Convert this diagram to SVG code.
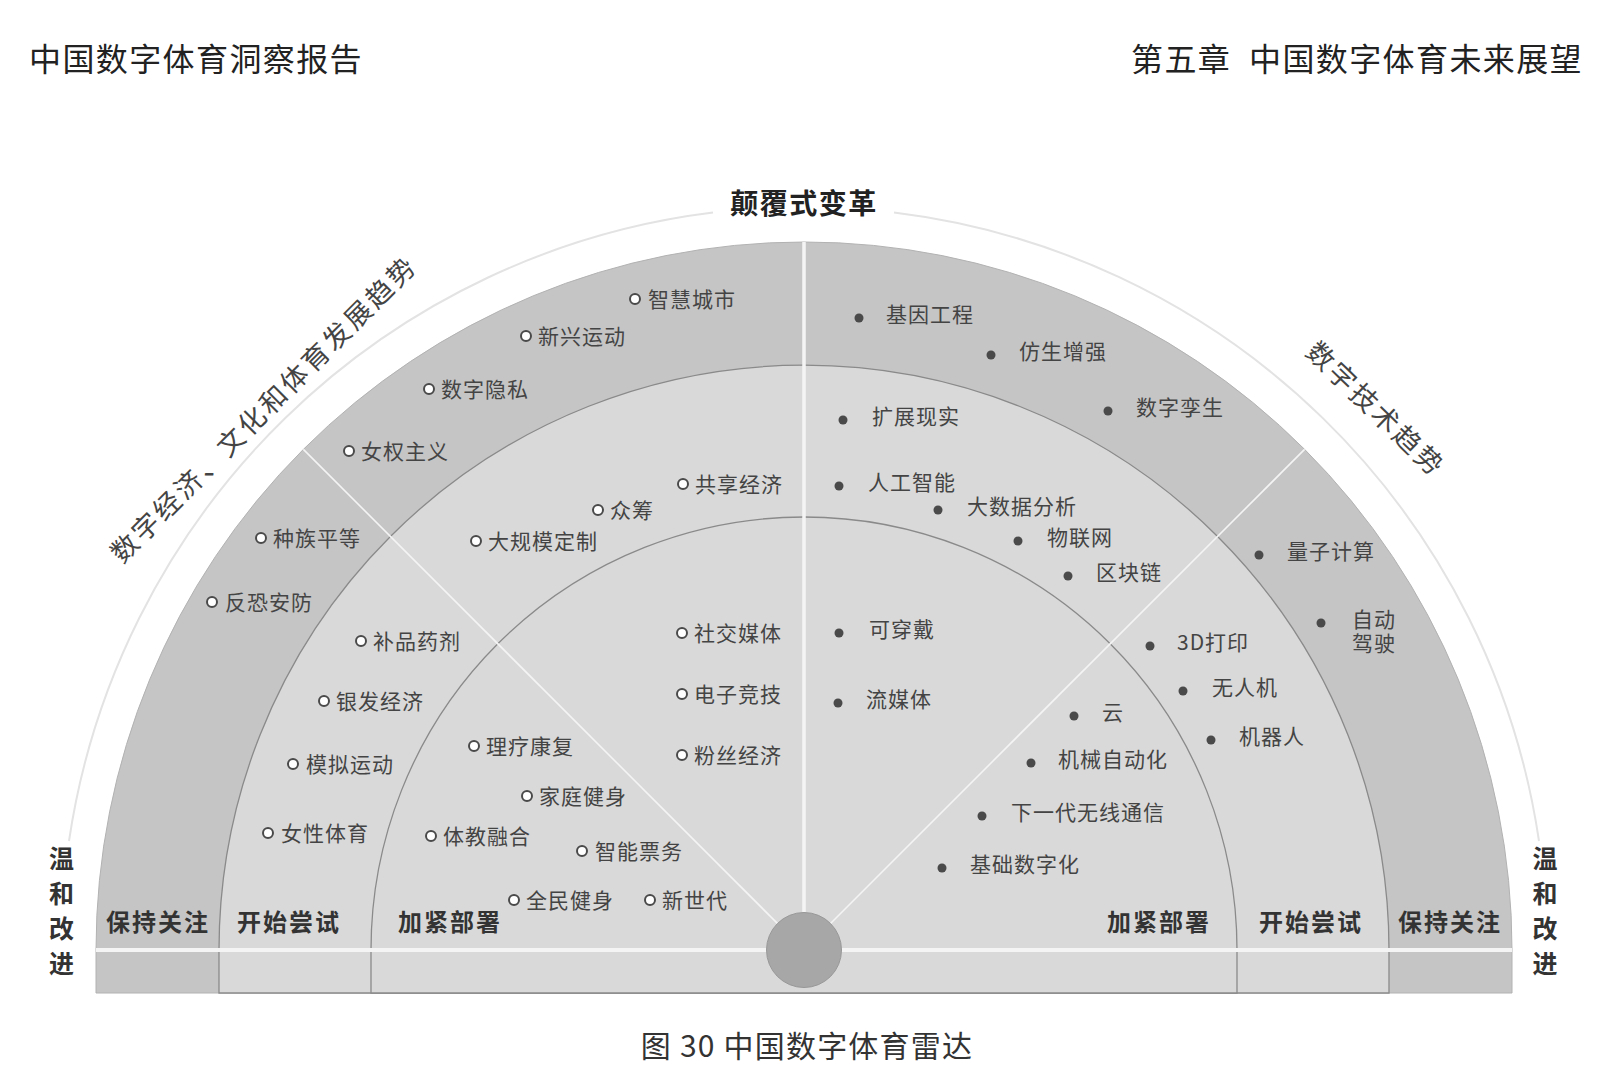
<svg xmlns="http://www.w3.org/2000/svg" width="1608" height="1080" viewBox="0 0 1608 1080">
<style>
text{font-family:"Noto Sans CJK SC","Noto Sans",sans-serif;dominant-baseline:central}
.hdr{font-size:32px;fill:#222;letter-spacing:1.4px}
.ttl{font-size:28px;font-weight:bold;fill:#222;letter-spacing:1.5px}
.side{font-size:27px;fill:#444;letter-spacing:3px}
.band{font-size:24px;font-weight:bold;fill:#333;letter-spacing:2px}
.vert{font-size:25px;font-weight:bold;fill:#333}
.it{font-size:21px;fill:#444;letter-spacing:1px}
.cap{font-size:30px;fill:#333;letter-spacing:1.2px}
.oc{fill:#fff;stroke:#4a4a4a;stroke-width:2}
.dot{fill:#4a4a4a}
.ring{stroke:#8a8a8a;stroke-width:1.3}
.wl{stroke:#f4f4f4;fill:none}
</style>
<rect width="1608" height="1080" fill="#fff"/>
<g id="header">
<text class="hdr" x="29" y="57">中国数字体育洞察报告</text>
<text class="hdr" x="1131" y="57">第五章<tspan x="1249">中国数字体育未来展望</tspan></text>
</g>
<g id="outer-arc" fill="none" stroke="#e3e3e3" stroke-width="2">
<path d="M69 841 A743 743 0 0 1 713 212.6"/>
<path d="M894 212.5 A743 743 0 0 1 1539 841"/>
</g>
<g id="rings">
<path d="M96 993 L96 950 A708 708 0 0 1 1512 950 L1512 993 Z" fill="#c5c5c5" stroke="#b2b2b2" stroke-width="1"/>
<path class="ring" d="M219 993 L219 950 A585 585 0 0 1 1389 950 L1389 993 Z" fill="#d9d9d9"/>
<path class="ring" d="M371 993 L371 950 A433 433 0 0 1 1237 950 L1237 993 Z" fill="#d9d9d9"/>
</g>
<g id="dividers">
<line class="wl" x1="804" y1="242" x2="804" y2="912" stroke-width="3.5"/>
<line class="wl" x1="804" y1="950" x2="303.4" y2="449.4" stroke-width="1.6"/>
<line class="wl" x1="804" y1="950" x2="1304.6" y2="449.4" stroke-width="1.6"/>
<line class="wl" x1="96" y1="950" x2="1512" y2="950" stroke-width="4"/>
</g>
<g id="center">
<circle cx="804" cy="950" r="37.5" fill="#a7a7a7" stroke="#989898" stroke-width="1"/>
</g>
<g id="labels">
<text class="ttl" x="804" y="202" text-anchor="middle">颠覆式变革</text>
<text class="side" x="262.5" y="408" text-anchor="middle" transform="rotate(-45 262.5 408)">数字经济、文化和体育发展趋势</text>
<text class="side" x="1377" y="408" text-anchor="middle" transform="rotate(44 1377 408)">数字技术趋势</text>
<text class="band" x="106" y="920">保持关注</text>
<text class="band" x="237" y="920">开始尝试</text>
<text class="band" x="398" y="920">加紧部署</text>
<text class="band" x="1107" y="920">加紧部署</text>
<text class="band" x="1259" y="920">开始尝试</text>
<text class="band" x="1398" y="920">保持关注</text>
<text class="vert" text-anchor="middle"><tspan x="61.5" y="857">温</tspan><tspan x="61.5" y="892">和</tspan><tspan x="61.5" y="927">改</tspan><tspan x="61.5" y="962">进</tspan></text>
<text class="vert" text-anchor="middle"><tspan x="1545" y="857">温</tspan><tspan x="1545" y="892">和</tspan><tspan x="1545" y="927">改</tspan><tspan x="1545" y="962">进</tspan></text>
</g>
<g id="left-items">
<g id="n-zhcs"><circle class="oc" cx="635" cy="299" r="5"/><text class="it" x="648" y="297.5">智慧城市</text></g>
<g id="n-xxyd"><circle class="oc" cx="526" cy="336" r="5"/><text class="it" x="538" y="334.5">新兴运动</text></g>
<g id="n-szys"><circle class="oc" cx="429" cy="389" r="5"/><text class="it" x="441" y="387.5">数字隐私</text></g>
<g id="n-nqzy"><circle class="oc" cx="349" cy="451" r="5"/><text class="it" x="361" y="449.5">女权主义</text></g>
<g id="n-zzpd"><circle class="oc" cx="261" cy="538" r="5"/><text class="it" x="273" y="536.5">种族平等</text></g>
<g id="n-fkaf"><circle class="oc" cx="212" cy="602" r="5"/><text class="it" x="225" y="600.5">反恐安防</text></g>
<g id="n-bpyj"><circle class="oc" cx="361" cy="641" r="5"/><text class="it" x="373" y="639.5">补品药剂</text></g>
<g id="n-yfjj"><circle class="oc" cx="324" cy="701" r="5"/><text class="it" x="336" y="699.5">银发经济</text></g>
<g id="n-mnyd"><circle class="oc" cx="293" cy="764" r="5"/><text class="it" x="306" y="762.5">模拟运动</text></g>
<g id="n-nxty"><circle class="oc" cx="268" cy="833" r="5"/><text class="it" x="281" y="831.5">女性体育</text></g>
<g id="n-gxjj"><circle class="oc" cx="683" cy="484" r="5"/><text class="it" x="695" y="482.5">共享经济</text></g>
<g id="n-zc"><circle class="oc" cx="598" cy="510" r="5"/><text class="it" x="610" y="508.5">众筹</text></g>
<g id="n-dgmdz"><circle class="oc" cx="476" cy="541" r="5"/><text class="it" x="488" y="539.5">大规模定制</text></g>
<g id="n-sjmt"><circle class="oc" cx="682" cy="633" r="5"/><text class="it" x="694" y="631.5">社交媒体</text></g>
<g id="n-dzjj"><circle class="oc" cx="682" cy="694" r="5"/><text class="it" x="694" y="692.5">电子竞技</text></g>
<g id="n-fsjj"><circle class="oc" cx="682" cy="755" r="5"/><text class="it" x="694" y="753.5">粉丝经济</text></g>
<g id="n-llkf"><circle class="oc" cx="474" cy="746" r="5"/><text class="it" x="486" y="744.5">理疗康复</text></g>
<g id="n-jtjs"><circle class="oc" cx="527" cy="796" r="5"/><text class="it" x="539" y="794.5">家庭健身</text></g>
<g id="n-tjrh"><circle class="oc" cx="431" cy="836" r="5"/><text class="it" x="443" y="834.5">体教融合</text></g>
<g id="n-znpw"><circle class="oc" cx="582" cy="851" r="5"/><text class="it" x="595" y="849.5">智能票务</text></g>
<g id="n-qmjs"><circle class="oc" cx="514" cy="900" r="5"/><text class="it" x="526" y="898.5">全民健身</text></g>
<g id="n-xsd"><circle class="oc" cx="650" cy="900" r="5"/><text class="it" x="662" y="898.5">新世代</text></g>
</g>
<g id="right-items">
<g id="n-jygc"><circle class="dot" cx="859" cy="318" r="4.5"/><text class="it" x="886" y="312.5">基因工程</text></g>
<g id="n-fszq"><circle class="dot" cx="991" cy="355" r="4.5"/><text class="it" x="1019" y="349.5">仿生增强</text></g>
<g id="n-szls"><circle class="dot" cx="1108" cy="411" r="4.5"/><text class="it" x="1136" y="405.5">数字孪生</text></g>
<g id="n-kzxs"><circle class="dot" cx="843" cy="420" r="4.5"/><text class="it" x="872" y="414.5">扩展现实</text></g>
<g id="n-rgzn"><circle class="dot" cx="839" cy="486" r="4.5"/><text class="it" x="868" y="480.5">人工智能</text></g>
<g id="n-dsjfx"><circle class="dot" cx="938" cy="510" r="4.5"/><text class="it" x="967" y="504.5">大数据分析</text></g>
<g id="n-wlw"><circle class="dot" cx="1018" cy="541" r="4.5"/><text class="it" x="1047" y="535.5">物联网</text></g>
<g id="n-qkl"><circle class="dot" cx="1068" cy="576" r="4.5"/><text class="it" x="1096" y="570.5">区块链</text></g>
<g id="n-lzjs"><circle class="dot" cx="1259" cy="555" r="4.5"/><text class="it" x="1287" y="549.5">量子计算</text></g>
<g id="n-zdjs"><circle class="dot" cx="1321" cy="623" r="4.5"/><text class="it"><tspan x="1352" y="618">自动</tspan><tspan x="1352" y="642">驾驶</tspan></text></g>
<g id="n-kcd"><circle class="dot" cx="839" cy="633" r="4.5"/><text class="it" x="869" y="627.5">可穿戴</text></g>
<g id="n-lmt"><circle class="dot" cx="838" cy="703" r="4.5"/><text class="it" x="866" y="697.5">流媒体</text></g>
<g id="n-3ddy"><circle class="dot" cx="1150" cy="646" r="4.5"/><text class="it" x="1177" y="640.5">3D打印</text></g>
<g id="n-wrj"><circle class="dot" cx="1183" cy="691" r="4.5"/><text class="it" x="1212" y="685.5">无人机</text></g>
<g id="n-jqr"><circle class="dot" cx="1211" cy="740" r="4.5"/><text class="it" x="1239" y="734.5">机器人</text></g>
<g id="n-yun"><circle class="dot" cx="1074" cy="716" r="4.5"/><text class="it" x="1102" y="710.5">云</text></g>
<g id="n-jxzdh"><circle class="dot" cx="1031" cy="763" r="4.5"/><text class="it" x="1058" y="757.5">机械自动化</text></g>
<g id="n-xydwx"><circle class="dot" cx="982" cy="816" r="4.5"/><text class="it" x="1011" y="810.5">下一代无线通信</text></g>
<g id="n-jcszh"><circle class="dot" cx="942" cy="868" r="4.5"/><text class="it" x="970" y="862.5">基础数字化</text></g>
</g>
<g id="caption">
<text class="cap" x="807" y="1044" text-anchor="middle">图 30 中国数字体育雷达</text>
</g>
</svg>
